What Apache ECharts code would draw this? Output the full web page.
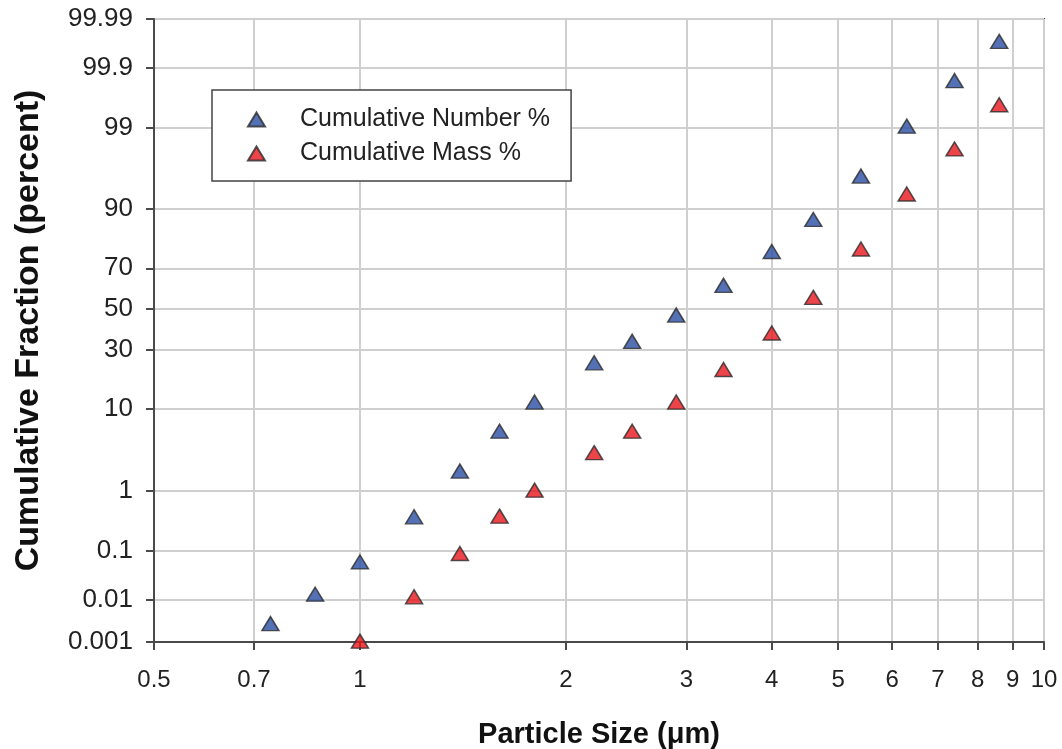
<!DOCTYPE html>
<html>
<head>
<meta charset="utf-8">
<title>Cumulative particle size distribution</title>
<script src="https://cdn.jsdelivr.net/npm/echarts@6/dist/echarts.min.js"></script>
<style>
  html, body { margin: 0; padding: 0; background: #fff; }
  #chart { width: 1062px; height: 749px; }
</style>
</head>
<body>
<div id="chart"></div>
<script>
// Particle sizes (µm) and cumulative fractions (percent)
const numberSizes = [0.74, 0.86, 1.0, 1.2, 1.4, 1.6, 1.8, 2.2, 2.5, 2.9, 3.4, 4.0, 4.6, 5.4, 6.3, 7.4, 8.6];
const numberPct   = [0.0028, 0.013, 0.06, 0.39, 1.9, 5.9, 11.7, 24.6, 34, 47, 62, 77, 87.5, 95.6, 99.05, 99.83, 99.97];
const massSizes   = [1.0, 1.2, 1.4, 1.6, 1.8, 2.2, 2.5, 2.9, 3.4, 4.0, 4.6, 5.4, 6.3, 7.4, 8.6];
const massPct     = [0.00105, 0.0114, 0.087, 0.40, 1.02, 3.3, 5.9, 11.7, 22, 38, 56, 78, 93, 98, 99.56];

// Axis ticks
const sizeTicks = [0.5, 0.7, 1, 2, 3, 4, 5, 6, 7, 8, 9, 10];
const pctTicks  = [0.001, 0.01, 0.1, 1, 10, 30, 50, 70, 90, 99, 99.9, 99.99];
const pctTickLabels = ['0.001', '0.01', '0.1', '1', '10', '30', '50', '70', '90', '99', '99.9', '99.99'];

// Inverse standard normal CDF (Acklam) — gives the probability-paper scale
function probit(p) {
  const a = [-3.969683028665376e+01, 2.209460984245205e+02, -2.759285104469687e+02, 1.383577518672690e+02, -3.066479806614716e+01, 2.506628277459239e+00];
  const b = [-5.447609879822406e+01, 1.615858368580409e+02, -1.556989798598866e+02, 6.680131188771972e+01, -1.328068155288572e+01];
  const c = [-7.784894002430293e-03, -3.223964580411365e-01, -2.400758277161838e+00, -2.549732539343734e+00, 4.374664141464968e+00, 2.938163982698783e+00];
  const d = [7.784695709041462e-03, 3.224671290700398e-01, 2.445134137142996e+00, 3.754408661907416e+00];
  const pl = 0.02425, ph = 1 - pl;
  let q, r;
  if (p < pl) {
    q = Math.sqrt(-2 * Math.log(p));
    return (((((c[0] * q + c[1]) * q + c[2]) * q + c[3]) * q + c[4]) * q + c[5]) /
           ((((d[0] * q + d[1]) * q + d[2]) * q + d[3]) * q + 1);
  }
  if (p <= ph) {
    q = p - 0.5; r = q * q;
    return (((((a[0] * r + a[1]) * r + a[2]) * r + a[3]) * r + a[4]) * r + a[5]) * q /
           (((((b[0] * r + b[1]) * r + b[2]) * r + b[3]) * r + b[4]) * r + 1);
  }
  q = Math.sqrt(-2 * Math.log(1 - p));
  return -(((((c[0] * q + c[1]) * q + c[2]) * q + c[3]) * q + c[4]) * q + c[5]) /
          ((((d[0] * q + d[1]) * q + d[2]) * q + d[3]) * q + 1);
}
const toZ = pct => probit(pct / 100);
const zTicks = pctTicks.map(toZ);

const pairs = (xs, ps) => xs.map((x, i) => [x, toZ(ps[i])]);

const markerStyle = color => ({ color: color, borderColor: '#2a2a2a', borderWidth: 1.5 });

const chart = echarts.init(document.getElementById('chart'), null, { renderer: 'canvas' });
chart.setOption({
  backgroundColor: '#fff',
  animation: false,
  textStyle: { fontFamily: '"Liberation Sans", Arial, sans-serif' },
  grid: {
    left: 154, right: 18, top: 19, bottom: 107,
    containLabel: false,
    outerBoundsMode: 'none',
    show: true, borderColor: '#4a4a4a', borderWidth: 2, backgroundColor: 'transparent'
  },
  legend: {
    orient: 'vertical',
    left: 212, top: 90,
    padding: [17, 21, 15, 35],
    itemGap: 9,
    itemWidth: 17, itemHeight: 14,
    backgroundColor: '#fff',
    borderColor: '#444', borderWidth: 1.5, borderRadius: 0,
    textStyle: { fontSize: 25, color: '#222', lineHeight: 24, padding: [0, 0, 0, 30] },
    data: ['Cumulative Number %', 'Cumulative Mass %']
  },
  xAxis: {
    type: 'log', logBase: 10, min: 0.5, max: 10,
    name: 'Particle Size (\u03bcm)',
    nameLocation: 'middle', nameGap: 78,
    nameTextStyle: { fontSize: 29, fontWeight: 'bold', color: '#111' },
    axisLine: { show: true, onZero: false, lineStyle: { color: '#4a4a4a', width: 2 } },
    axisTick: { show: true, length: 8, lineStyle: { color: '#4a4a4a', width: 2 }, customValues: sizeTicks },
    axisLabel: { show: true, fontSize: 24, color: '#222', margin: 26, customValues: sizeTicks,
                 formatter: v => String(+(+v).toFixed(2)) },
    splitLine: { show: true, lineStyle: { color: '#cfcfcf', width: 2 } },
    minorTick: { show: false }, minorSplitLine: { show: false }
  },
  yAxis: {
    type: 'value', min: zTicks[0], max: zTicks[zTicks.length - 1],
    name: 'Cumulative Fraction (percent)',
    nameLocation: 'middle', nameGap: 108, nameRotate: 90,
    nameTextStyle: { fontSize: 34, fontWeight: 'bold', color: '#111' },
    axisLine: { show: true, onZero: false, lineStyle: { color: '#4a4a4a', width: 2 } },
    axisTick: { show: true, length: 8, lineStyle: { color: '#4a4a4a', width: 2 }, customValues: zTicks },
    axisLabel: {
      show: true, fontSize: 26, color: '#222', margin: 21, customValues: zTicks,
      formatter: v => {
        let best = 0;
        zTicks.forEach((z, i) => { if (Math.abs(z - v) < Math.abs(zTicks[best] - v)) best = i; });
        return pctTickLabels[best];
      }
    },
    splitLine: { show: true, lineStyle: { color: '#cfcfcf', width: 2 } }
  },
  series: [
    {
      name: 'Cumulative Number %', type: 'scatter',
      symbol: 'triangle', symbolSize: [17, 14],
      itemStyle: markerStyle('#2b4ea3'),
      data: pairs(numberSizes, numberPct), z: 3
    },
    {
      name: 'Cumulative Mass %', type: 'scatter',
      symbol: 'triangle', symbolSize: [17, 14],
      itemStyle: markerStyle('#e8151d'),
      data: pairs(massSizes, massPct), z: 3
    }
  ]
});
</script>
</body>
</html>
